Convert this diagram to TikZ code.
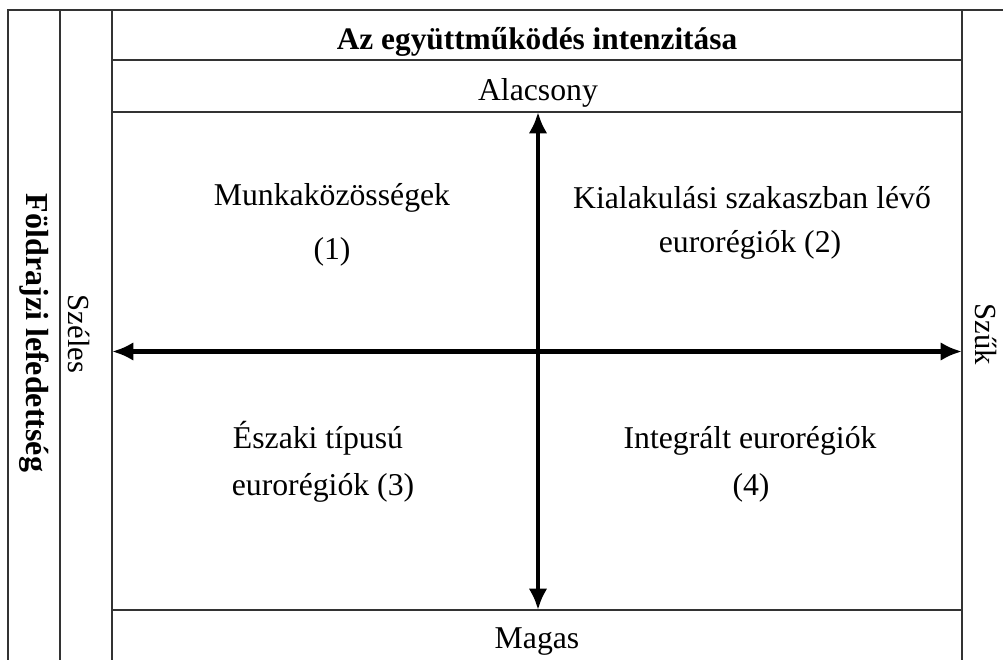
\documentclass[tikz,border=0pt]{standalone}
\usepackage{fontspec}
\setmainfont{Liberation Serif}
\usetikzlibrary{arrows.meta}
\begin{document}
\begin{tikzpicture}[x=0.75pt,y=-0.75pt,
  grid/.style={line width=1.5pt, draw=black!80},
  axis/.style={line width=3.6pt, {Latex[length=16pt,width=14pt]}-{Latex[length=16pt,width=14pt]}},
  lbl/.style={inner sep=0pt, anchor=base, font=\fontsize{23.8}{28}\selectfont},
  side/.style={inner sep=0pt, anchor=center, rotate=-90, font=\fontsize{23}{27}\selectfont}]
\useasboundingbox (0,0) rectangle (1003,660);
% table lines
\draw[grid] (8,660) -- (8,10) -- (1003,10);
\draw[grid] (60,10) -- (60,660);
\draw[grid] (112,10) -- (112,660);
\draw[grid] (962,10) -- (962,660);
\draw[grid] (112,60) -- (962,60);
\draw[grid] (112,112) -- (962,112);
\draw[grid] (112,610) -- (962,610);
% axes
\coordinate (L) at (112,351.5);
\coordinate (R) at (962,351.5);
\coordinate (T) at (538,112);
\coordinate (B) at (538,610);
\draw[axis] (L) -- (R);
\draw[axis] (T) -- (B);
% header texts
\node[lbl, font=\fontsize{23.5}{28}\selectfont\bfseries] (title) at (537,50) {Az együttműködés intenzitása};
\node[lbl] (low) at (538,100) {Alacsony};
\node[lbl] (high) at (537,648) {Magas};
% side texts
\node[side, font=\fontsize{24}{27}\selectfont\bfseries] (geo) at (34,333) {Földrajzi lefedettség};
\node[side] (wide) at (79,334) {Széles};
\node[side] (narrow) at (986,334) {Szűk};
% quadrants
\node[lbl] (q1a) at (332,205) {Munkaközösségek};
\node[lbl] (q1b) at (332,259) {(1)};
\node[lbl] (q2a) at (752,208) {Kialakulási szakaszban lévő};
\node[lbl] (q2b) at (750,252) {eurorégiók (2)};
\node[lbl] (q3a) at (318,448) {Északi típusú};
\node[lbl] (q3b) at (323,495) {eurorégiók (3)};
\node[lbl] (q4a) at (750,448) {Integrált eurorégiók};
\node[lbl] (q4b) at (751,495) {(4)};
\end{tikzpicture}
\end{document}
